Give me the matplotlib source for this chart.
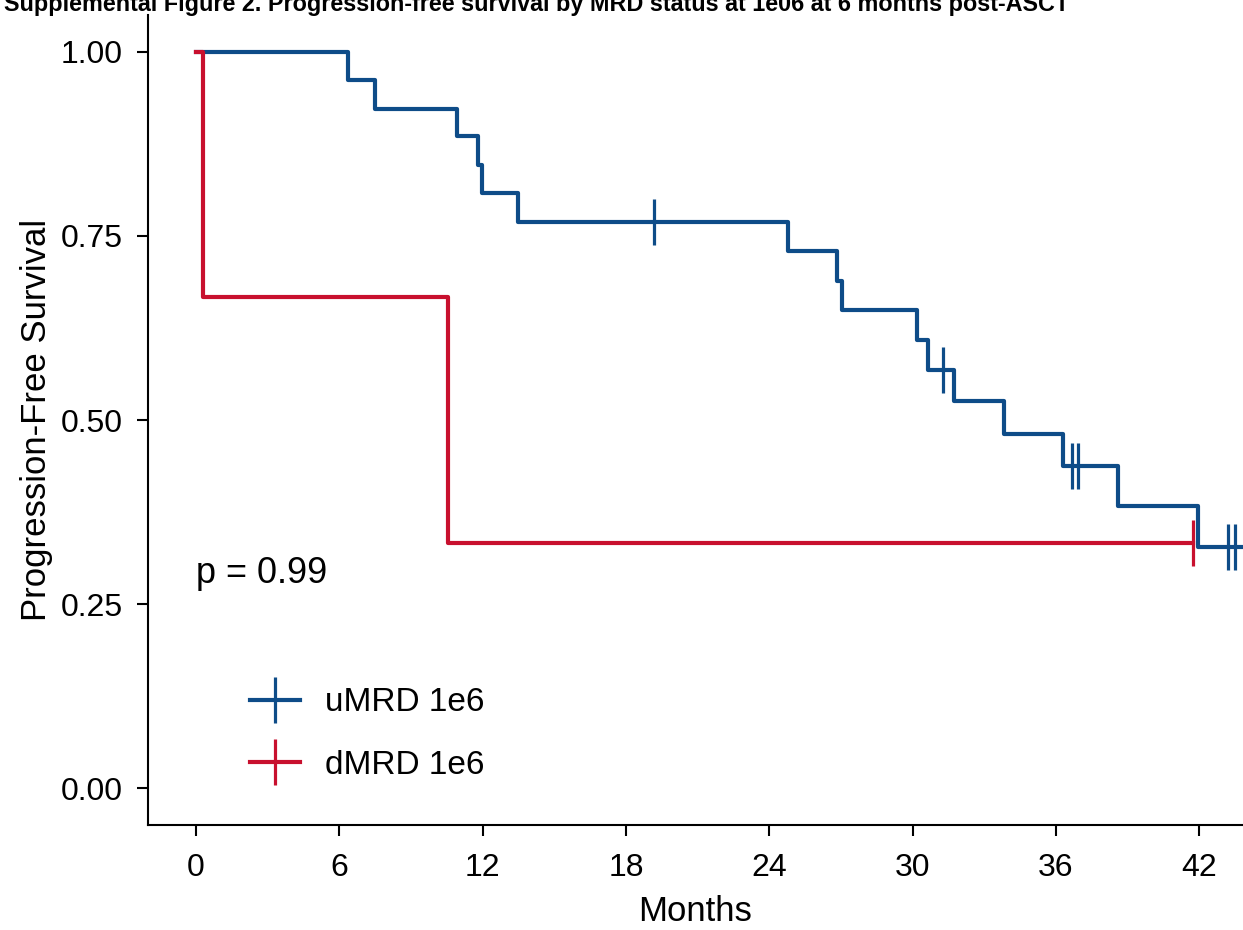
import matplotlib
matplotlib.use('Agg')
import matplotlib.pyplot as plt
from matplotlib.lines import Line2D

plt.rcParams['font.family'] = ['Liberation Sans', 'DejaVu Sans']

# Kaplan-Meier steps (months, survival)
umrd_time = [0, 6.36, 7.49, 10.93, 11.80, 11.97, 13.48, 24.78, 26.83, 27.04,
             30.18, 30.64, 31.73, 33.82, 36.29, 38.59, 41.94, 44.0]
umrd_surv = [1.0, 0.962, 0.923, 0.885, 0.846, 0.808, 0.769, 0.729, 0.689, 0.649,
             0.608, 0.568, 0.526, 0.481, 0.437, 0.383, 0.328, 0.328]
umrd_cens_time = [19.17, 31.27, 36.67, 36.92, 43.20, 43.49]
umrd_cens_surv = [0.769, 0.568, 0.437, 0.437, 0.328, 0.328]

dmrd_time = [0, 0.29, 10.55, 41.73]
dmrd_surv = [1.0, 0.667, 0.333, 0.333]
dmrd_cens_time = [41.73]
dmrd_cens_surv = [0.333]

labels = ['uMRD 1e6', 'dMRD 1e6']
colors = ['#0E4C88', '#C8102E']
x_ticks = [0, 6, 12, 18, 24, 30, 36, 42]
y_ticks = [0.0, 0.25, 0.5, 0.75, 1.0]
p_text = 'p = 0.99'
title = 'Supplemental Figure 2. Progression-free survival by MRD status at 1e06 at 6 months post-ASCT'

fig = plt.figure(figsize=(12.43, 9.3), dpi=100)
ax = fig.add_axes([148 / 1243, 1 - 825 / 930, 1 - 148 / 1243, (825 - 15) / 930])

lw = 3.0
ms = 33
mew = 2.3
ax.step(umrd_time, umrd_surv, where='post', color=colors[0], lw=lw, zorder=3)
ax.plot(umrd_cens_time, umrd_cens_surv, ls='none', marker='|', ms=ms, mew=mew,
        color=colors[0], zorder=4)
ax.step(dmrd_time, dmrd_surv, where='post', color=colors[1], lw=lw, zorder=5)
ax.plot(dmrd_cens_time, dmrd_cens_surv, ls='none', marker='|', ms=ms, mew=mew,
        color=colors[1], zorder=6)

ax.set_xlim(-2.01, 43.83)
ax.set_ylim(-0.05, 1.05)
ax.set_xticks(x_ticks)
ax.set_xticklabels([str(t) for t in x_ticks])
ax.set_yticks(y_ticks)
ax.set_yticklabels(['%.2f' % v for v in y_ticks])

for s in ['top', 'right']:
    ax.spines[s].set_visible(False)
for s in ['left', 'bottom']:
    ax.spines[s].set_linewidth(1.5)
ax.tick_params(axis='both', length=8, width=1.5, labelsize=23, colors='black')
ax.tick_params(axis='y', pad=10)
ax.tick_params(axis='x', pad=12)

ax.set_xlabel('Months', fontsize=25, labelpad=9)
ax.set_ylabel('Progression-Free Survival', fontsize=25, labelpad=6)

ax.text(0, 0.292, p_text, fontsize=26, ha='left', va='center')

handles = [Line2D([], [], color=c, lw=lw, marker='|', ms=ms, mew=mew) for c in colors]
ax.legend(handles, labels, loc='center left', bbox_to_anchor=(0.0932, 0.112),
          frameon=False, fontsize=24, handlelength=1.5, handletextpad=0.75,
          labelspacing=0.95, borderpad=0, borderaxespad=0)

fig.text(4 / 1243, 1 - 11 / 930, title, fontsize=16.8, fontweight='bold',
         ha='left', va='baseline')

plt.savefig('out.png', dpi=100)
plt.close()
